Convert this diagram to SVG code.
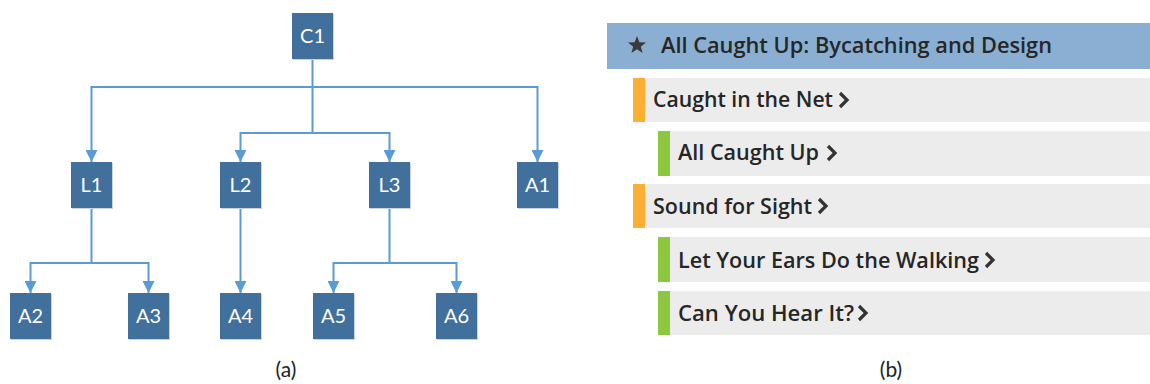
<svg xmlns="http://www.w3.org/2000/svg" width="1150" height="384" viewBox="0 0 1150 384">
<style>
.box{fill:#41709c;}
.shadow{fill:#c9d3dd;}
.bl{font-family:Lato,"Open Sans",sans-serif;font-size:20px;fill:#ffffff;text-anchor:middle;}
.cap{font-family:Lato,"Open Sans",sans-serif;font-size:21px;fill:#222;text-anchor:middle;}
.conn{fill:none;stroke:#5b9bd5;stroke-width:2;marker-end:url(#arr);}
.row{fill:#ececec;}
.org{fill:#fbb034;}
.grn{fill:#8dc63f;}
.rt{font-family:"Open Sans",sans-serif;font-weight:600;font-size:21px;fill:#262626;}
.chev{fill:none;stroke:#333;stroke-width:3.2;stroke-linejoin:miter;}
</style>
<defs>
<marker id="arr" markerUnits="userSpaceOnUse" markerWidth="12" markerHeight="12" viewBox="0 0 12 12" refX="12" refY="6" orient="auto">
<path d="M0,0 L12,6 L0,12 Z" fill="#5b9bd5"/>
</marker>
</defs>
<rect width="1150" height="384" fill="#ffffff"/>
<g id="connectors">
<path class="conn" d="M312.5 59 V87 H91.5 V162"/>
<path class="conn" d="M312.5 87 H537.5 V162"/>
<path class="conn" d="M312.5 87 V133 H240.5 V162"/>
<path class="conn" d="M312.5 133 H389.5 V162"/>
<path class="conn" d="M91.5 208 V263 H30.5 V293"/>
<path class="conn" d="M91.5 263 H148.5 V293"/>
<path class="conn" d="M240.5 208 V293"/>
<path class="conn" d="M389.5 208 V263 H333.5 V293"/>
<path class="conn" d="M389.5 263 H456.5 V293"/>
</g>
<g id="C1"><rect class="shadow" x="293" y="14" width="41" height="46"/><rect class="box" x="292" y="13" width="41" height="46"/><text class="bl" x="312.5" y="43">C1</text></g>
<g id="L1"><rect class="shadow" x="72" y="163" width="41" height="46"/><rect class="box" x="71" y="162" width="41" height="46"/><text class="bl" x="91.5" y="192">L1</text></g>
<g id="L2"><rect class="shadow" x="221" y="163" width="41" height="46"/><rect class="box" x="220" y="162" width="41" height="46"/><text class="bl" x="240.5" y="192">L2</text></g>
<g id="L3"><rect class="shadow" x="370" y="163" width="41" height="46"/><rect class="box" x="369" y="162" width="41" height="46"/><text class="bl" x="389.5" y="192">L3</text></g>
<g id="A1"><rect class="shadow" x="518" y="163" width="41" height="46"/><rect class="box" x="517" y="162" width="41" height="46"/><text class="bl" x="537.5" y="192">A1</text></g>
<g id="A2"><rect class="shadow" x="11" y="294" width="41" height="46"/><rect class="box" x="10" y="293" width="41" height="46"/><text class="bl" x="30.5" y="323">A2</text></g>
<g id="A3"><rect class="shadow" x="129" y="294" width="41" height="46"/><rect class="box" x="128" y="293" width="41" height="46"/><text class="bl" x="148.5" y="323">A3</text></g>
<g id="A4"><rect class="shadow" x="221" y="294" width="41" height="46"/><rect class="box" x="220" y="293" width="41" height="46"/><text class="bl" x="240.5" y="323">A4</text></g>
<g id="A5"><rect class="shadow" x="314" y="294" width="41" height="46"/><rect class="box" x="313" y="293" width="41" height="46"/><text class="bl" x="333.5" y="323">A5</text></g>
<g id="A6"><rect class="shadow" x="437" y="294" width="41" height="46"/><rect class="box" x="436" y="293" width="41" height="46"/><text class="bl" x="456.5" y="323">A6</text></g>
<text class="cap" x="286" y="377">(a)</text>

<g id="header">
<rect x="607" y="23" width="543" height="46" fill="#8aafd3"/>
<polygon points="637,36 639.4,42.3 646,42.6 640.8,46.7 642.6,53 637,49.3 631.4,53 633.2,46.7 628,42.6 634.6,42.3" fill="#3a3a3a"/>
<text class="rt" x="661" y="53" font-size="22" textLength="391" lengthAdjust="spacingAndGlyphs" fill="#1f2530">All Caught Up: Bycatching and Design</text>
</g>
<g id="row-caught-in-the-net">
<rect class="row" x="645" y="78" width="505" height="44"/><rect class="org" x="633" y="78" width="12" height="44"/>
<text class="rt" x="653" y="107" textLength="180" lengthAdjust="spacingAndGlyphs">Caught in the Net</text>
<path class="chev" d="M840 93 L847 100 L840 107"/>
</g>
<g id="row-all-caught-up">
<rect class="row" x="670" y="131" width="480" height="45"/><rect class="grn" x="658" y="131" width="12" height="45"/>
<text class="rt" x="678" y="160" textLength="141" lengthAdjust="spacingAndGlyphs">All Caught Up</text>
<path class="chev" d="M828 146 L835 153 L828 160"/>
</g>
<g id="row-sound-for-sight">
<rect class="row" x="645" y="184" width="505" height="44"/><rect class="org" x="633" y="184" width="12" height="44"/>
<text class="rt" x="653" y="214" textLength="159" lengthAdjust="spacingAndGlyphs">Sound for Sight</text>
<path class="chev" d="M819 199 L826 206 L819 213"/>
</g>
<g id="row-let-your-ears">
<rect class="row" x="670" y="237" width="480" height="45"/><rect class="grn" x="658" y="237" width="12" height="45"/>
<text class="rt" x="678" y="268" textLength="301" lengthAdjust="spacingAndGlyphs">Let Your Ears Do the Walking</text>
<path class="chev" d="M986 253 L993 260 L986 267"/>
</g>
<g id="row-can-you-hear-it">
<rect class="row" x="670" y="291" width="480" height="44"/><rect class="grn" x="658" y="291" width="12" height="44"/>
<text class="rt" x="678" y="321" textLength="176" lengthAdjust="spacingAndGlyphs">Can You Hear It?</text>
<path class="chev" d="M859 306 L866 313 L859 320"/>
</g>
<text class="cap" x="891" y="377">(b)</text>
</svg>
